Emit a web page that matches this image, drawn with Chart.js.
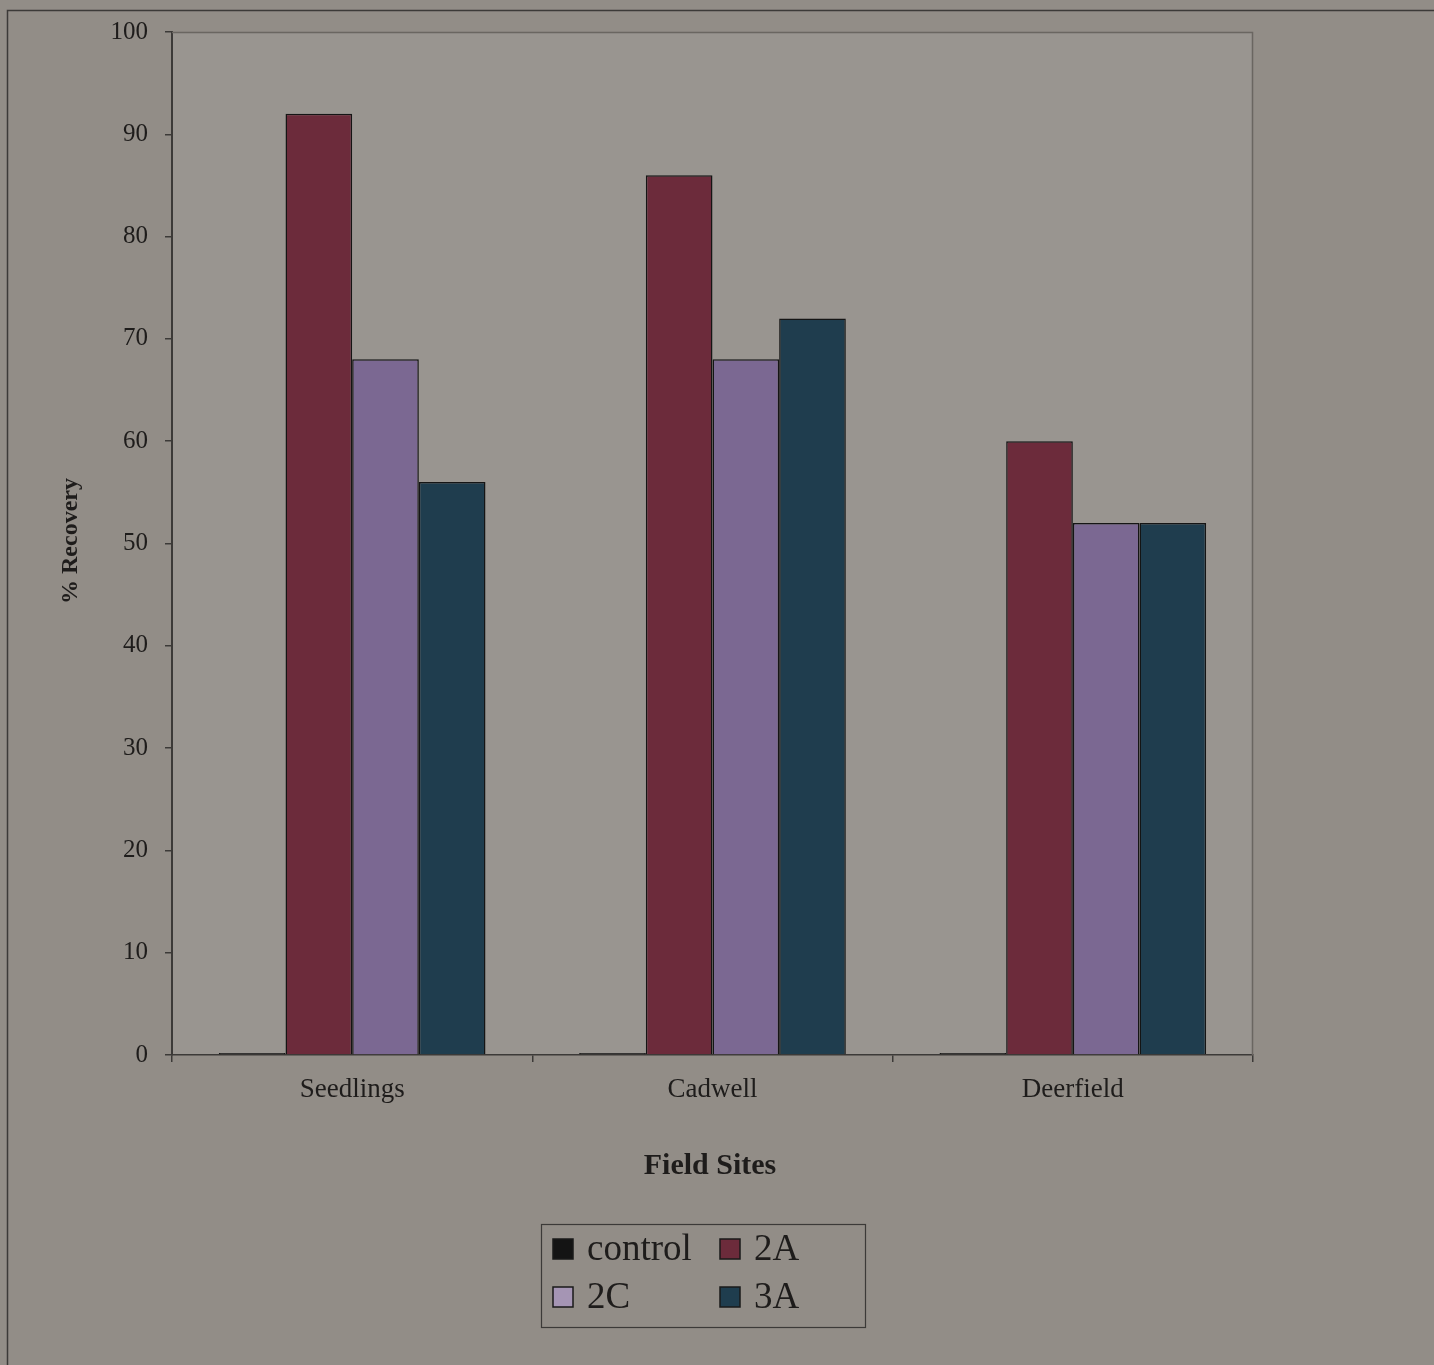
<!DOCTYPE html>
<html>
<head>
<meta charset="utf-8">
<script src="https://cdn.jsdelivr.net/npm/chart.js@4/dist/chart.umd.min.js"></script>
<style>
  html, body { margin: 0; padding: 0; background: #928d87; }
  #wrap { width: 1434px; height: 1365px; position: relative; }
</style>
</head>
<body>
<div id="wrap"><canvas id="c" width="1434" height="1365"></canvas></div>
<script>
// Field sites and % recovery per treatment
const sites = ['Seedlings', 'Cadwell', 'Deerfield'];
const seriesNames = ['control', '2A', '2C', '3A'];
const controlVals = [0.2, 0.2, 0.2];
const vals2A = [92, 86, 60];
const vals2C = [68, 68, 52];
const vals3A = [56, 72, 52];
const yTicks = [0, 10, 20, 30, 40, 50, 60, 70, 80, 90, 100];

const colors = ['#141414', '#6c2b3b', '#7b6892', '#1f3d4e'];
const swatchColors = ['#141414', '#6c2b3b', '#a595b4', '#1f3d4e'];
const seriesVals = [controlVals, vals2A, vals2C, vals3A];

const serif = '"Liberation Serif", "DejaVu Serif", serif';

const frame = {
  id: 'frame',
  beforeDraw(chart) {
    const ctx = chart.ctx;
    const a = chart.chartArea;
    ctx.save();
    ctx.fillStyle = '#928d87';
    ctx.fillRect(0, 0, chart.width, chart.height);
    // plot background
    ctx.fillStyle = '#999590';
    ctx.fillRect(a.left, a.top, a.right - a.left, a.bottom - a.top);
    // outer frame
    ctx.strokeStyle = '#3c3a38';
    ctx.lineWidth = 1.5;
    ctx.beginPath();
    ctx.moveTo(7.5, chart.height);
    ctx.lineTo(7.5, 10.5);
    ctx.lineTo(chart.width, 10.5);
    ctx.stroke();
    ctx.restore();
  },
  afterDraw(chart) {
    const ctx = chart.ctx;
    const a = chart.chartArea;
    ctx.save();
    // plot top / right border
    ctx.strokeStyle = '#6a6661';
    ctx.lineWidth = 1.5;
    ctx.beginPath();
    ctx.moveTo(a.left, a.top + 0.5);
    ctx.lineTo(a.right - 0.5, a.top + 0.5);
    ctx.lineTo(a.right - 0.5, a.bottom);
    ctx.stroke();

    // axis titles
    ctx.fillStyle = '#1e1c1b';
    ctx.textAlign = 'center';
    ctx.textBaseline = 'middle';
    ctx.font = 'bold 30px ' + serif;
    ctx.fillText('Field Sites', 710, 1166);
    ctx.save();
    ctx.translate(71, 541);
    ctx.rotate(-Math.PI / 2);
    ctx.font = 'bold 24px ' + serif;
    ctx.fillText('% Recovery', 0, 0);
    ctx.restore();

    // legend box
    const bx = 541, by = 1224, bw = 324, bh = 103;
    ctx.strokeStyle = '#3c3a38';
    ctx.lineWidth = 1.2;
    ctx.strokeRect(bx + 0.5, by + 0.5, bw, bh);
    const pos = [[553, 1249], [720, 1249], [553, 1297], [720, 1297]];
    ctx.font = '37px ' + serif;
    ctx.textAlign = 'left';
    chart.data.datasets.forEach((ds, i) => {
      const [x, y] = pos[i];
      ctx.fillStyle = swatchColors[i];
      ctx.fillRect(x, y - 10, 20, 20);
      ctx.strokeStyle = '#1a1a1a';
      ctx.lineWidth = 1.5;
      ctx.strokeRect(x, y - 10, 20, 20);
      ctx.fillStyle = '#1e1c1b';
      ctx.fillText(ds.label, x + 34, y + 1);
    });
    ctx.restore();
  }
};

new Chart(document.getElementById('c'), {
  type: 'bar',
  data: {
    labels: sites,
    datasets: seriesNames.map((name, i) => ({
      label: name,
      data: seriesVals[i],
      backgroundColor: colors[i],
      borderColor: '#151515',
      borderWidth: 1.5,
      borderSkipped: 'bottom'
    }))
  },
  options: {
    responsive: false,
    animation: false,
    layout: { padding: { left: 0, top: 28, right: 181, bottom: 0 } },
    plugins: { legend: { display: false }, tooltip: { enabled: false } },
    datasets: { bar: { barPercentage: 1.0, categoryPercentage: 0.74 } },
    scales: {
      x: {
        offset: true,
        grid: { offset: true, drawOnChartArea: false, color: '#3c3a38', tickLength: 7, lineWidth: 1.5 },
        border: { display: true, color: '#3c3a38', width: 1.5 },
        ticks: { color: '#1e1c1b', font: { family: serif, size: 27 }, padding: 12 },
        afterFit(scale) { scale.height = 310; }
      },
      y: {
        min: 0,
        max: 100,
        afterBuildTicks(scale) { scale.ticks = yTicks.map(v => ({ value: v })); },
        grid: { drawOnChartArea: false, color: '#3c3a38', tickLength: 7, lineWidth: 1.5 },
        border: { display: true, color: '#3c3a38', width: 2 },
        ticks: { color: '#1e1c1b', font: { family: serif, size: 25 }, padding: 17 },
        afterFit(scale) { scale.width = 172; }
      }
    }
  },
  plugins: [frame]
});
</script>
</body>
</html>
